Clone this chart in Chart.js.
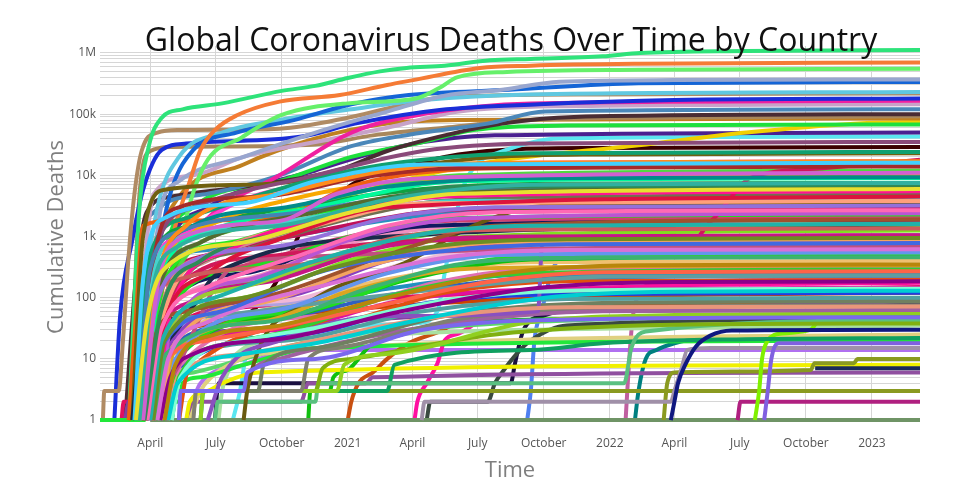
<!DOCTYPE html>
<html>
<head>
<meta charset="utf-8">
<title>Global Coronavirus Deaths Over Time by Country</title>
<script src="https://cdn.jsdelivr.net/npm/chart.js@4.4.1/dist/chart.umd.min.js"></script>
<style>
  html, body { margin: 0; padding: 0; background: #ffffff; }
  #wrap { width: 960px; height: 500px; }
</style>
</head>
<body>
<div id="wrap"><canvas id="deathsChart" width="960" height="500"></canvas></div>
<script>
// x is days since 22 Jan 2020
const tickDays = [70, 161, 253, 345, 435, 526, 618, 710, 800, 891, 983, 1075];
const tickNames = ['April', 'July', 'October', '2021', 'April', 'July', 'October', '2022', 'April', 'July', 'October', '2023'];
const lastDay = 1142;

const yMajorTicks = [1, 10, 100, 1000, 10000, 100000, 1000000];
const yMajorNames = ['1', '10', '100', '1k', '10k', '100k', '1M'];

// each curve: day, deaths, day, deaths, ...
const leadingCurves = [
  [40,1, 46,30, 55,3000, 68,30000, 85,85000, 115,120000, 170,150000, 253,240000, 300,290000, 345,390000, 390,500000, 427,570000, 480,620000, 543,760000, 600,800000, 700,880000, 752,1000000, 900,1080000, 1142,1120000],
  [60,1, 85,100, 105,1500, 125,8000, 140,26000, 160,55000, 190,95000, 250,160000, 334,205000, 400,300000, 436,360000, 529,570000, 600,620000, 750,665000, 1142,700000],
  [70,1, 95,50, 120,2000, 146,15000, 198,42000, 253,97000, 345,150000, 440,180000, 473,270000, 497,400000, 567,490000, 750,530000, 1142,550000],
  [55,1, 70,100, 85,3000, 110,8000, 200,20000, 300,50000, 400,110000, 480,200000, 560,250000, 640,340000, 800,360000, 1142,370000],
  [55,1, 70,50, 85,1000, 100,6000, 130,26000, 190,50000, 270,80000, 350,145000, 430,205000, 570,250000, 750,320000, 1142,335000],
  [50,1, 65,200, 80,3000, 110,20000, 170,50000, 250,80000, 350,120000, 450,170000, 600,210000, 1142,230000],
  [4,1, 6,3, 26,3, 32,20, 40,500, 48,5000, 58,25000, 80,50000, 110,55000, 250,58000, 350,90000, 430,150000, 480,190000, 700,210000, 1142,220000],
  [20,1, 28,50, 45,870, 60,5800, 86,26000, 120,33000, 281,43000, 355,70000, 473,117000, 612,145000, 800,170000, 1142,180000],
  [70,1, 100,300, 150,2000, 250,10000, 350,50000, 450,100000, 600,150000, 1142,165000],
  [45,1, 60,200, 75,5000, 130,10000, 200,20000, 300,35000, 400,60000, 500,110000, 650,135000, 1142,145000],
  [40,1, 55,500, 75,2500, 150,5000, 250,10000, 350,30000, 450,50000, 540,70000, 620,110000, 1142,120000],
  [35,1, 50,200, 65,2500, 100,4500, 200,6500, 330,12000, 400,25000, 480,45000, 560,70000, 660,90000, 1142,100000],
  [38,1, 48,100, 55,5000, 70,25000, 100,29000, 300,32000, 380,45000, 480,60000, 600,80000, 800,88000, 1142,92000],
  [50,1, 70,300, 100,3000, 200,15000, 300,40000, 400,70000, 500,80000, 1142,85000],
  [65,1, 90,500, 130,3000, 250,8000, 350,20000, 450,35000, 520,55000, 650,65000, 1142,68000],
  [60,1, 90,300, 150,1500, 300,3500, 450,10000, 550,17000, 750,31000, 900,50000, 1050,70000, 1142,75000],
  [60,1, 85,300, 150,3000, 300,12000, 420,30000, 550,45000, 1142,50000],
  [185,1, 195,3, 205,15, 215,30, 300,34, 440,38, 470,60, 480,250, 493,1500, 505,6000, 527,16000, 553,23000, 640,40000, 1142,43000],
  [60,1, 70,20, 81,38, 150,50, 206,56, 230,100, 244,170, 265,500, 281,1300, 300,2000, 330,4000, 350,7000, 420,13000, 480,20000, 560,26000, 700,28000, 1142,29000]
];
const leadingColors = ['#2ee37a', '#f57b35', '#66f06a', '#98a6cf', '#1565d6', '#60c8e0', '#b08b64', '#1a2ed8', '#f020a0', '#c7a2c8',
  '#4a87b9', '#4a2c33', '#a8875c', '#c08020', '#1ee03c', '#f0d000', '#4a2090', '#5ae6f0', '#3a0000'];

const middleCurves = [
  [55,1, 75,500, 130,3000, 300,10000, 450,25000, 600,33000, 1142,35000],
  [50,1, 70,500, 120,2000, 250,6000, 350,12000, 450,18000, 600,23000, 1142,24000],
  [45,1, 60,1000, 90,5800, 200,7000, 350,10000, 450,15000, 550,20000, 700,22000, 1142,23000],
  [60,1, 80,20, 120,200, 250,500, 400,800, 600,900, 830,950, 845,1500, 860,2300, 891,6500, 905,9000, 1007,13000, 1142,18000],
  [55,1, 75,300, 110,1000, 200,4000, 350,9000, 450,13000, 600,16000, 1142,17000],
  [40,1, 50,50, 60,1500, 100,1800, 250,2000, 300,3500, 340,6000, 420,10000, 550,13000, 1142,14500],
  [60,1, 90,100, 200,1500, 350,5000, 500,10000, 1142,12000],
  [55,1, 80,200, 150,1500, 300,5000, 420,8000, 600,9500, 1142,10000],
  [50,1, 70,400, 130,1500, 300,3500, 450,6000, 600,7200, 1142,7500],
  [65,1, 90,200, 180,800, 320,2500, 450,4500, 600,5500, 1142,5800],
  [70,1, 100,100, 200,600, 350,2000, 500,4000, 1142,4800],
  [60,1, 80,50, 150,400, 300,1500, 420,3000, 600,4000, 1142,4100],
  [200,1, 205,3, 215,9, 235,30, 280,70, 330,150, 420,350, 520,1500, 600,3000, 700,3500, 1142,3600],
  [58,1, 80,100, 150,500, 300,1200, 450,2500, 600,2900, 1142,3000],
  [50,1, 70,200, 150,600, 300,1200, 450,2200, 600,2600, 1142,2700],
  [75,1, 92,50, 200,300, 350,1000, 500,2000, 1142,2300],
  [62,1, 85,80, 180,300, 330,900, 480,1800, 1142,2100],
  [70,1, 88,60, 200,250, 330,800, 460,1500, 1142,1900],
  [64,1, 82,40, 200,200, 330,700, 480,1400, 1142,1700],
  [80,1, 95,30, 220,180, 360,600, 500,1200, 1142,1450],
  [72,1, 88,20, 200,100, 360,450, 520,1000, 1142,1250],
  [85,1, 100,20, 250,100, 400,400, 550,750, 1142,840],
  [90,1, 104,20, 260,90, 420,350, 560,650, 1142,700],
  [75,1, 90,20, 250,80, 420,300, 580,550, 1142,600],
  [95,1, 108,10, 280,60, 450,250, 600,480, 1142,530],
  [88,1, 100,8, 260,50, 430,200, 600,420, 1142,480],
  [70,1, 84,10, 220,60, 400,200, 600,380, 1142,400],
  [100,1, 112,8, 300,50, 470,180, 620,300, 1142,320],
  [60,1, 75,15, 200,50, 400,140, 600,240, 1142,260],
  [65,1, 80,10, 220,40, 420,120, 620,210, 1142,230],
  [110,1, 122,6, 330,40, 480,120, 650,185, 1142,195],
  [66,1, 80,8, 250,30, 420,90, 600,135, 1142,145],
  [90,1, 102,6, 280,25, 450,80, 620,112, 1142,120],
  [75,1, 88,6, 260,20, 450,60, 650,95, 1142,100],
  [100,1, 104,3, 220,3, 228,8, 300,15, 480,50, 700,82, 1142,88],
  [130,1, 134,3, 280,3, 290,10, 330,15, 500,45, 700,70, 1142,75],
  [80,1, 84,3, 200,3, 210,6, 250,10, 500,40, 700,60, 1142,63],
  [140,1, 144,3, 330,3, 340,8, 400,12, 600,40, 800,52, 1142,55],
  [110,1, 114,3, 300,3, 310,7, 350,10, 550,25, 800,36, 1142,38]
];
const middleColors = ['#8a4a7a', '#10a070', '#706010', '#d0185a', '#ff40d0', '#f06010', '#50d840', '#f8a800', '#10a040', '#22e822',
  '#707050', '#d08a90', '#6a5a10', '#c0105a', '#2a90c0', '#22dd22', '#d04070', '#101a60', '#f090c0', '#60d040',
  '#80e020', '#8a40c0', '#f0b8d8', '#b0a0e0', '#22dd22', '#10c010', '#f0c070', '#e070b0', '#2090c0', '#3060c0',
  '#e05010', '#e010a0', '#2040e0', '#50a0a0', '#708060', '#808070', '#a060a0', '#90d020', '#80b010'];

const fillerCurves = [
  [50,1, 65,40, 90,300, 200,800, 350,2500, 500,5000, 1142,6000],
  [55,1, 70,80, 100,600, 250,1500, 400,4000, 600,7000, 1142,7500],
  [60,1, 80,150, 110,900, 250,1800, 330,5000, 450,9000, 1142,11000],
  [48,1, 60,200, 90,2000, 200,3500, 300,8000, 450,15000, 1142,16000],
  [58,1, 75,100, 120,1500, 250,5000, 400,12000, 550,16000, 1142,17000],
  [62,1, 85,60, 140,400, 260,1200, 380,3500, 500,6500, 1142,7000],
  [56,1, 75,50, 110,300, 250,700, 400,2000, 550,3000, 1142,3200],
  [66,1, 85,30, 150,150, 280,500, 400,1500, 550,2500, 1142,2700],
  [70,1, 86,20, 160,100, 300,400, 450,1100, 600,1500, 1142,1600],
  [52,1, 70,60, 110,200, 280,350, 420,1000, 600,1300, 1142,1350],
  [74,1, 90,20, 200,100, 320,300, 470,700, 650,900, 1142,950],
  [68,1, 85,15, 170,60, 300,250, 460,550, 650,750, 1142,780],
  [80,1, 95,10, 150,40, 330,180, 480,450, 650,600, 1142,620],
  [78,1, 92,12, 230,40, 380,150, 520,380, 700,450, 1142,460],
  [90,1, 105,8, 160,25, 250,35, 400,100, 560,250, 750,340, 1142,350],
  [72,1, 88,8, 150,20, 220,28, 380,70, 540,180, 700,260, 1142,270],
  [84,1, 98,5, 130,12, 260,22, 420,60, 600,140, 800,180, 1142,185],
  [95,1, 108,4, 200,12, 300,18, 450,45, 620,100, 800,125, 1142,130],
  [60,1, 80,30, 120,60, 250,120, 400,500, 550,1500, 1142,1900],
  [100,1, 112,5, 200,20, 300,32, 480,90, 650,130, 1142,140],
  [64,1, 90,40, 150,250, 260,1000, 400,3000, 1142,4500],
  [58,1, 80,120, 140,800, 300,2500, 450,5000, 1142,6500],
  [75,1, 100,70, 180,600, 320,2200, 480,4500, 1142,5500],
  [52,1, 70,300, 110,1200, 280,2500, 420,4500, 600,6000, 1142,6200],
  [76,1, 92,25, 200,150, 350,600, 500,1300, 1142,1600],
  [82,1, 98,30, 210,200, 350,900, 520,2000, 1142,2400],
  [68,1, 90,60, 160,500, 300,1500, 450,3500, 1142,3800],
  [59,1, 80,200, 130,1500, 260,3000, 400,6500, 600,9000, 1142,9300],
  [85,1, 100,15, 220,80, 380,350, 550,800, 1142,900],
  [92,1, 105,10, 240,60, 400,250, 560,500, 1142,550],
  [100,1, 110,5, 180,18, 260,28, 420,120, 600,250, 1142,290],
  [62,1, 85,25, 130,90, 250,200, 400,700, 600,1000, 1142,1050],
  [70,1, 90,30, 150,50, 300,80, 500,150, 700,220, 1142,230],
  [88,1, 102,12, 220,40, 350,130, 520,300, 1142,340],
  [95,1, 108,5, 200,12, 260,16, 450,45, 650,70, 1142,72],
  [110,1, 112,3, 200,3, 205,6, 300,10, 450,30, 700,45, 1142,48],
  [55,1, 72,150, 100,800, 200,1400, 350,2600, 500,3800, 1142,4000],
  [57,1, 75,400, 110,3000, 230,4500, 360,9000, 500,13000, 1142,14000],
  [60,1, 85,200, 150,1200, 300,3000, 500,8000, 1142,9000],
  [63,1, 90,100, 150,500, 270,1500, 430,4500, 620,7000, 1142,7300],
  [45,1, 55,10, 85,12, 95,20, 110,33, 125,63, 140,100, 150,170, 200,400, 350,900, 1142,1600],
  [70,1, 80,2, 95,4, 110,8, 125,20, 140,50, 160,150, 200,400, 1142,700],
  [150,1, 170,5, 250,20, 400,50, 610,60, 616,800, 700,1000, 1142,1050]
];
const fillerColors = ['#e8e030', '#30b0a0', '#d060d0', '#40d0ff', '#ff8c1a', '#2e8b57', '#9370db', '#ff69b4', '#20b2aa', '#cd5c5c',
  '#6b8e23', '#4169e1', '#da70d6', '#3cb371', '#b8860b', '#ff6347', '#8b008b', '#00ced1', '#a0522d', '#7fffd4',
  '#dc143c', '#556b2f', '#ff1493', '#4682b4', '#9acd32', '#ba55d3', '#ffa07a', '#008b8b', '#f4a460', '#6495ed',
  '#32cd32', '#c71585', '#5f9ea0', '#daa520', '#e9967a', '#7b68ee', '#48d1cc', '#a52a2a', '#00fa9a', '#f08080',
  '#1a2a4a', '#c05080', '#8a50c0'];

const lowCurves = [
  [160,1, 164,2, 300,2, 304,4, 730,4, 740,15, 760,28, 1142,43],
  [795,1, 800,2, 805,4, 815,8, 830,16, 850,24, 880,29, 1142,30],
  [140,1, 144,3, 400,3, 410,8, 600,14, 700,18, 900,21, 1142,22],
  [912,1, 918,3, 922,10, 930,20, 950,26, 990,30, 1000,40, 1142,42],
  [925,1, 930,3, 935,10, 945,18, 1142,18],
  [448,1, 452,2, 795,2, 800,3, 810,7, 818,14, 850,15, 1142,15],
  [785,1, 790,4, 800,6, 990,6.6, 995,8.5, 1050,8.5, 1055,10, 1142,10],
  [40,1, 60,3, 1142,3],
  [996,7, 1142,7],
  [888,1, 892,2, 1142,2],
  [70,1, 1142,1],
  [0,1, 62,1, 64,2, 110,2, 115,4, 140,5, 200,8, 300,15, 1142,20],
  [120,1, 125,2, 150,3, 170,4, 220,6, 1142,8],
  [165,1, 170,3, 178,6, 190,12, 250,20, 1142,35],
  [125,1, 140,3, 155,5, 180,8, 220,12, 1142,25],
  [40,1, 45,2, 60,2, 70,4, 80,10, 100,30, 1142,120],
  [35,1, 40,2, 55,2, 70,6, 90,15, 200,30, 1142,90],
  [30,1, 33,2, 60,2, 75,8, 100,30, 200,70, 1142,150],
  [55,1, 60,2, 95,2, 100,4, 130,6, 200,10, 300,20, 1142,60],
  [125,1, 128,2, 280,2, 290,4, 370,4, 380,5, 1142,6],
  [290,1, 293,3, 320,3, 325,5, 345,6.6, 360,10, 375,16, 420,25, 500,40, 1142,50],
  [345,1, 350,2, 360,4, 380,6, 400,10, 430,18, 470,27, 520,50, 1142,90],
  [438,1, 442,2, 455,4, 470,8.5, 480,20, 500,26, 540,56, 570,120, 620,135, 800,160, 1142,175],
  [455,1, 460,2, 540,2, 550,4, 560,6, 580,12, 600,20, 650,35, 1142,45],
  [160,1, 165,4, 572,4, 578,8.5, 590,30, 620,52, 700,70, 1142,80],
  [595,1, 600,3, 605,20, 615,60, 630,280, 660,680, 700,900, 1142,1000],
  [732,1, 735,4, 738,14, 742,48, 752,120, 780,180, 1142,200],
  [745,1, 750,3, 760,10, 775,14, 800,18, 830,21, 1142,22],
  [120,1, 140,4, 200,8, 240,12, 260,14, 1142,14]
];
const lowColors = ['#5ac080', '#101880', '#10a060', '#80f000', '#8060e0', '#a090a8', '#8a9a20', '#8a9a20', '#1a2a5a', '#b02080',
  '#6f9466', '#22e83a', '#f0f000', '#a8e0a0', '#e0d080', '#cc4400', '#8040a0', '#e01060', '#5ad86a', '#9050a0',
  '#10c010', '#c85010', '#ff10a0', '#3a4a40', '#1a1040', '#5080f0', '#c060a0', '#008080', '#b070f0'];

function toPoints(flat) {
  const pts = [];
  for (let i = 0; i < flat.length; i += 2) pts.push({ x: flat[i], y: flat[i + 1] });
  return pts;
}

function makeSets(curves, colors) {
  return curves.map((c, i) => ({
    data: toPoints(c),
    borderColor: colors[i % colors.length],
    backgroundColor: colors[i % colors.length],
    borderWidth: 4,
    pointRadius: 0,
    fill: false,
    cubicInterpolationMode: 'monotone'
  }));
}

// later groups paint on top
const datasets = [].concat(
  makeSets(fillerCurves, fillerColors),
  makeSets(middleCurves, middleColors),
  makeSets(lowCurves, lowColors),
  makeSets(leadingCurves, leadingColors)
);

// every 1..9 step of each decade gets a grid line
const yGridTicks = [];
yMajorTicks.forEach((m, i) => {
  if (i === yMajorTicks.length - 1) { yGridTicks.push(m); return; }
  for (let k = 1; k <= 9; k++) yGridTicks.push(m * k);
});

const textPlugin = {
  id: 'plotText',
  afterDraw(chart) {
    const ctx = chart.ctx;
    ctx.save();
    ctx.fillStyle = '#111111';
    ctx.font = '32px "Open Sans"';
    ctx.textAlign = 'center';
    ctx.textBaseline = 'alphabetic';
    ctx.fillText('Global Coronavirus Deaths Over Time by Country', 511, 51);

    ctx.fillStyle = '#7f7f7f';
    ctx.font = '22px "Open Sans"';
    ctx.textBaseline = 'middle';
    ctx.fillText('Time', 510, 471);

    ctx.translate(57, 237);
    ctx.rotate(-Math.PI / 2);
    ctx.fillText('Cumulative Deaths', 0, 0);
    ctx.restore();
  }
};

new Chart(document.getElementById('deathsChart'), {
  type: 'line',
  data: { datasets: datasets },
  options: {
    responsive: false,
    animation: false,
    devicePixelRatio: 1,
    events: [],
    layout: { padding: { top: 46, right: 40, left: 0, bottom: 0 } },
    plugins: {
      legend: { display: false },
      tooltip: { enabled: false },
      title: { display: false }
    },
    scales: {
      x: {
        type: 'linear',
        min: 0,
        max: lastDay,
        afterBuildTicks: (scale) => { scale.ticks = tickDays.map(v => ({ value: v })); },
        afterFit: (scale) => { scale.height = 78; },
        border: { display: false },
        grid: { color: '#d6d6d6', lineWidth: 1, drawTicks: false },
        ticks: {
          autoSkip: false,
          maxRotation: 0,
          padding: 14,
          color: '#555555',
          font: { family: 'Open Sans', size: 12 },
          callback: (v) => { const i = tickDays.indexOf(v); return i >= 0 ? tickNames[i] : ''; }
        }
      },
      y: {
        type: 'logarithmic',
        min: 0.93,
        max: 1300000,
        afterBuildTicks: (scale) => { scale.ticks = yGridTicks.map(v => ({ value: v })); },
        afterFit: (scale) => { scale.width = 100; },
        border: { display: false },
        grid: { color: '#d6d6d6', lineWidth: 1, drawTicks: false },
        ticks: {
          autoSkip: false,
          padding: 4,
          color: '#555555',
          font: { family: 'Open Sans', size: 12 },
          callback: (v) => { const i = yMajorTicks.indexOf(v); return i >= 0 ? yMajorNames[i] : ''; }
        }
      }
    }
  },
  plugins: [textPlugin]
});
</script>
</body>
</html>
